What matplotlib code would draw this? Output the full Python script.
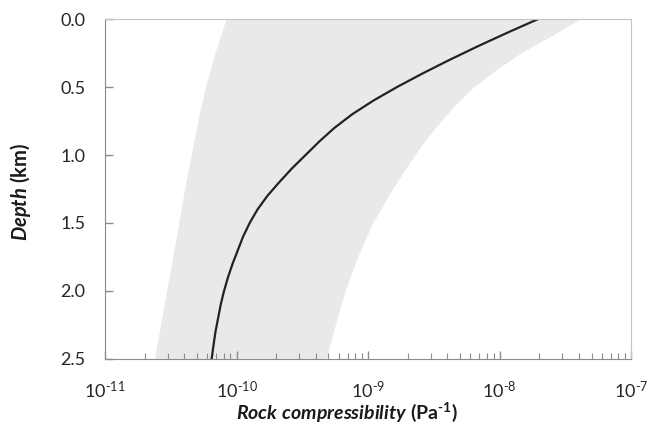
import numpy as np
import matplotlib.pyplot as plt
from matplotlib.ticker import LogLocator, FixedLocator, FixedFormatter, NullFormatter

plt.rcParams['font.family'] = ['Lato', 'DejaVu Sans']
plt.rcParams['mathtext.fontset'] = 'custom'
plt.rcParams['mathtext.rm'] = 'Lato'
plt.rcParams['mathtext.it'] = 'Lato:italic'
plt.rcParams['mathtext.bf'] = 'Lato:bold'
plt.rcParams['mathtext.bfit'] = 'Lato:bold:italic'

# curva central: profundidade (km) e log10 da compressibilidade (1/Pa)
depth_curve = [0.0, 0.1, 0.2, 0.3, 0.4, 0.5, 0.6, 0.7, 0.8, 0.9, 1.0, 1.1, 1.2,
               1.3, 1.4, 1.5, 1.6, 1.7, 1.8, 1.9, 2.0, 2.1, 2.2, 2.3, 2.4, 2.5]
logc_curve = [-7.707, -7.94, -8.165, -8.38, -8.585, -8.78, -8.96, -9.12, -9.255,
              -9.37, -9.475, -9.58, -9.675, -9.765, -9.84, -9.90, -9.95, -9.99,
              -10.03, -10.065, -10.095, -10.12, -10.14, -10.16, -10.175, -10.189]

# faixa cinza: limite esquerdo e direito
depth_low = [0.0, 0.25, 0.5, 0.75, 1.0, 1.25, 1.5, 1.75, 2.0, 2.25, 2.5]
logc_low = [-10.075, -10.16, -10.232, -10.29, -10.34, -10.39, -10.435, -10.48,
            -10.527, -10.573, -10.62]
depth_high = [0.0, 0.125, 0.25, 0.375, 0.5, 0.625, 0.75, 0.875, 1.0, 1.25, 1.5,
              1.75, 2.0, 2.25, 2.5]
logc_high = [-7.378, -7.60, -7.83, -8.02, -8.19, -8.325, -8.44, -8.545, -8.64,
             -8.81, -8.96, -9.075, -9.17, -9.245, -9.314]

xtick_vals = [1e-11, 1e-10, 1e-9, 1e-8, 1e-7]
xtick_labels = [r'$10^{‐11}$', r'$10^{‐10}$', r'$10^{‐9}$', r'$10^{‐8}$', r'$10^{‐7}$']
ytick_vals = [0.0, 0.5, 1.0, 1.5, 2.0, 2.5]

fig = plt.figure(figsize=(6.52, 4.33), dpi=100)
ax = fig.add_axes([0.161, 0.171, 0.807, 0.785])

# polígono da faixa: desce pelo limite esquerdo e sobe pelo direito
band_x = [10**v for v in logc_low] + [10**v for v in logc_high[::-1]]
band_y = depth_low + depth_high[::-1]
ax.fill(band_x, band_y, color='#e8e9eb', linewidth=0)
ax.plot([10**v for v in logc_curve], depth_curve, color='#222222', linewidth=1.6,
        solid_joinstyle='round')

ax.set_xscale('log')
ax.set_xlim(1e-11, 1e-7)
ax.set_ylim(2.5, 0.0)
ax.set_yticks(ytick_vals)
ax.set_yticklabels([f'{v:.1f}' for v in ytick_vals])
ax.xaxis.set_major_locator(FixedLocator(xtick_vals))
ax.xaxis.set_major_formatter(FixedFormatter(xtick_labels))
ax.xaxis.set_minor_locator(LogLocator(base=10, subs=np.arange(2, 10), numticks=20))
ax.xaxis.set_minor_formatter(NullFormatter())

for k in ['left', 'bottom']:
    ax.spines[k].set_color('#8c8c8c')
for k in ['top', 'right']:
    ax.spines[k].set_color('#c4c4c4')

ax.tick_params(axis='both', which='major', direction='in', length=6, width=1,
               color='#8c8c8c', labelsize=13, labelcolor='#262626')
ax.tick_params(axis='x', which='major', pad=15)
ax.tick_params(axis='y', which='major', pad=14)
ax.tick_params(axis='x', which='minor', direction='in', length=4, width=0.8, color='#8c8c8c')
ax.tick_params(axis='y', which='both', left=True, right=False)
ax.tick_params(axis='x', which='both', top=False)

ax.set_xlabel(r'$\mathbfit{Rock\ compressibility}$ $\mathbf{(Pa^{‐1})}$', fontsize=14,
              color='#1a1a1a')
ax.xaxis.set_label_coords(0.46, -0.124)
ax.set_ylabel(r'$\mathbfit{Depth}$ $\mathbf{(km)}$', fontsize=14.5, color='#1a1a1a')
ax.yaxis.set_label_coords(-0.137, 0.49)

plt.savefig('out.png', dpi=100)
